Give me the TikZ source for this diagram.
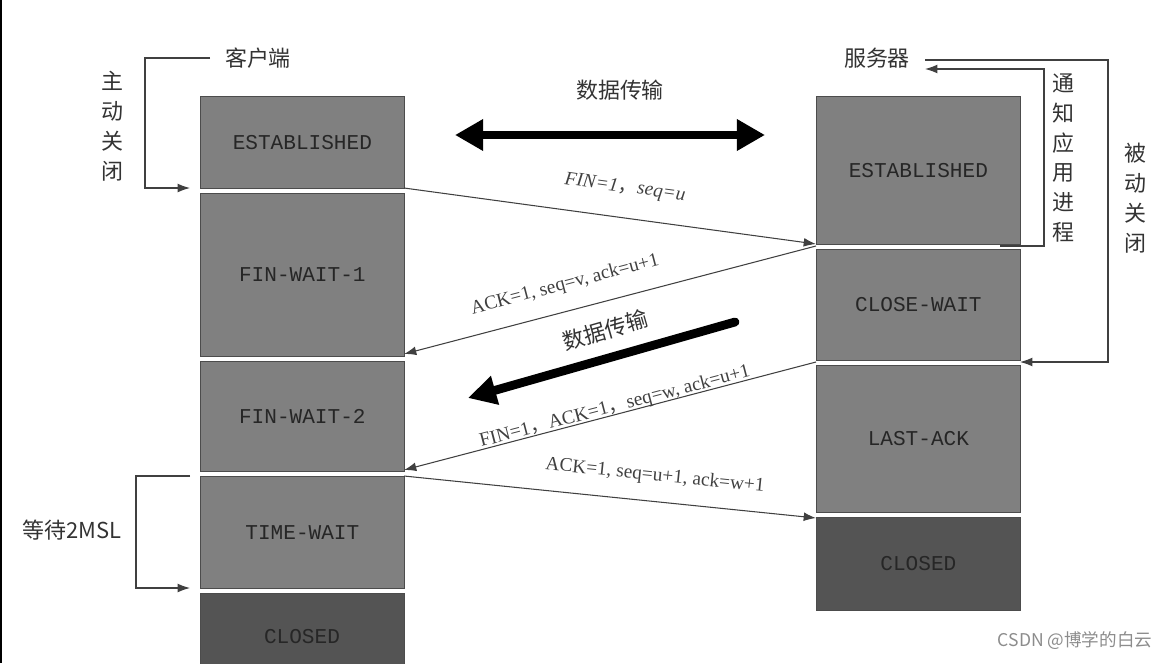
\documentclass[tikz,border=0pt]{standalone}
\usepackage{fontspec}
\setmainfont{Liberation Serif}
\setmonofont{Liberation Mono}
\newfontfamily\cjk{Noto Sans CJK SC}
\newcommand{\fwc}{{\cjk ，}}
\usetikzlibrary{arrows.meta}
\begin{document}
\begin{tikzpicture}[x=0.02cm,y=-0.02cm,
  st/.style={draw=black!70,fill=black!50,inner sep=0,font=\ttfamily\fontsize{12}{12}\selectfont,text=black!85},
  dk/.style={st,fill=black!67},
  ln/.style={draw=black!75,line width=0.6pt,-{Latex[length=7pt,width=5pt]}},
  lb/.style={font=\fontsize{11}{11}\selectfont,text=black!75},
  ch/.style={font=\cjk\fontsize{12.5}{13}\selectfont,text=black!80},
  vt/.style={font=\cjk\fontsize{12.5}{17}\selectfont,text=black!80,align=center,text width=1.2em}]
\useasboundingbox (0,0) rectangle (1176,663);
\draw[line width=1.2pt] (1,0) -- (1,663);
% client
\node[st,minimum width=204*0.02cm,minimum height=92*0.02cm,anchor=north west] (ce) at (200,96) {ESTABLISHED};
\node[st,minimum width=204*0.02cm,minimum height=163*0.02cm,anchor=north west] (cf1) at (200,193) {FIN-WAIT-1};
\node[st,minimum width=204*0.02cm,minimum height=110*0.02cm,anchor=north west] (cf2) at (200,361) {FIN-WAIT-2};
\node[st,minimum width=204*0.02cm,minimum height=112*0.02cm,anchor=north west] (ct) at (200,476) {TIME-WAIT};
\node[dk,minimum width=204*0.02cm,minimum height=90*0.02cm,anchor=north west] (cc) at (200,593) {};
\node[font=\ttfamily\fontsize{12}{12}\selectfont,text=black!85] at (302,637) {CLOSED};
% server
\node[st,minimum width=204*0.02cm,minimum height=148*0.02cm,anchor=north west] (se) at (816,96) {ESTABLISHED};
\node[st,minimum width=204*0.02cm,minimum height=111*0.02cm,anchor=north west] (scw) at (816,249) {CLOSE-WAIT};
\node[st,minimum width=204*0.02cm,minimum height=147*0.02cm,anchor=north west] (sla) at (816,365) {LAST-ACK};
\node[dk,minimum width=204*0.02cm,minimum height=93*0.02cm,anchor=north west] (sc) at (816,517) {CLOSED};
% titles
\node[ch] (kh) at (258,58) {客户端};
\node[ch] (fw) at (877,58) {服务器};
\node[ch] (dt) at (620,90) {数据传输};
\node[vt] at (112,126) {主\\动\\关\\闭};
\node[vt] at (1063,158) {通\\知\\应\\用\\进\\程};
\node[vt] at (1135,198) {被\\动\\关\\闭};
\node[ch] at (72,530) {等待2MSL};
% brackets
\coordinate (k1) at (210,58); \coordinate (k2) at (190,188);
\draw[ln] (k1) -- (145,58) -- (145,188) -- (k2);
\coordinate (t1) at (190,476); \coordinate (t2) at (190,588);
\draw[ln] (t1) -- (136,476) -- (136,588) -- (t2);
\coordinate (n1) at (1000,246); \coordinate (n2) at (925,69);
\draw[ln] (n1) -- (1044,246) -- (1044,69) -- (n2);
\coordinate (b1) at (925,60); \coordinate (b2) at (1020,362);
\draw[ln] (b1) -- (1108,60) -- (1108,362) -- (b2);
% thick arrows
\coordinate (d1) at (455,135); \coordinate (d2) at (765,135);
\draw[line width=5pt,{Triangle[length=16pt,width=17pt]}-{Triangle[length=16pt,width=17pt]}] (d1) -- (d2);
\coordinate (e1) at (735,322); \coordinate (e2) at (468,398);
\draw[line width=5pt,line cap=round,-{Triangle[length=16pt,width=16pt]}] (e1) -- (e2);
\node[ch,rotate=16] at (605,330) {数据传输};
% messages
\coordinate (m1) at (404,188); \coordinate (m2) at (816,244);
\draw[ln] (m1) -- (m2);
\node[lb,rotate=-7.7,font=\itshape\fontsize{11}{11}\selectfont] at (625,188) {FIN=1\fwc seq=u};
\coordinate (a1) at (816,246); \coordinate (a2) at (404,354);
\draw[ln] (a1) -- (a2);
\node[lb,rotate=14.7] at (565,285) {ACK=1, seq=v, ack=u+1};
\coordinate (f1) at (816,362); \coordinate (f2) at (404,470);
\draw[ln] (f1) -- (f2);
\node[lb,rotate=14.7] at (615,407) {FIN=1\fwc ACK=1\fwc seq=w, ack=u+1};
\coordinate (g1) at (404,476); \coordinate (g2) at (816,518);
\draw[ln] (g1) -- (g2);
\node[lb,rotate=-5.8] at (655,476) {ACK=1, seq=u+1, ack=w+1};
\node[font=\cjk\fontsize{10}{10}\selectfont,text=black!45] at (1075,641) {CSDN @博学的白云};
\end{tikzpicture}
\end{document}
